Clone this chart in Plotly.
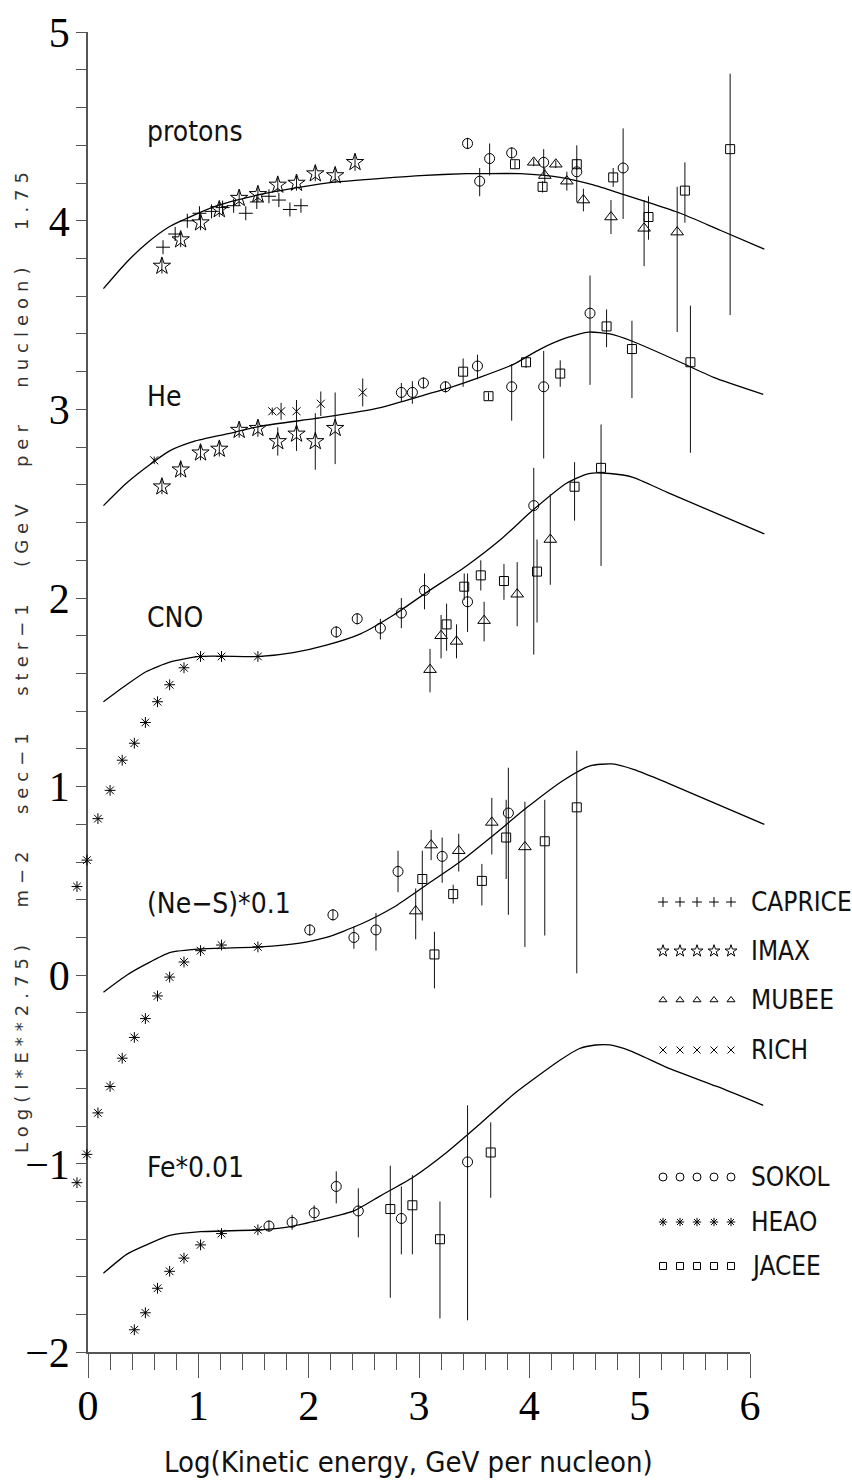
import plotly.graph_objects as go

# ---------------- data ----------------
# Model curves: x = log10(kinetic energy, GeV/nucleon), y = log10(I*E^2.75)
CURVE_P_X = [0.14, 0.35, 0.53, 0.74, 0.96, 1.17, 1.56, 2.16, 2.77, 3.01, 3.43, 3.55, 3.92, 4.28, 4.58, 4.85, 5.12, 5.37, 5.73, 6.13]
CURVE_P_Y = [3.64, 3.78, 3.88, 3.97, 4.03, 4.08, 4.14, 4.20, 4.23, 4.24, 4.25, 4.25, 4.25, 4.23, 4.19, 4.14, 4.09, 4.04, 3.95, 3.85]
CURVE_HE_X = [0.14, 0.35, 0.59, 0.74, 0.96, 1.26, 1.56, 2.16, 2.65, 3.07, 3.25, 3.55, 3.86, 4.10, 4.34, 4.54, 4.73, 4.94, 5.37, 5.67, 6.12]
CURVE_HE_Y = [2.49, 2.61, 2.72, 2.78, 2.83, 2.87, 2.91, 2.96, 3.01, 3.08, 3.11, 3.17, 3.24, 3.32, 3.38, 3.41, 3.40, 3.36, 3.25, 3.17, 3.08]
CURVE_CNO_X = [0.14, 0.35, 0.53, 0.74, 1.02, 1.56, 1.86, 2.16, 2.47, 2.77, 3.07, 3.43, 3.74, 4.04, 4.34, 4.54, 4.73, 4.94, 5.25, 6.13]
CURVE_CNO_Y = [1.45, 1.54, 1.61, 1.66, 1.69, 1.69, 1.71, 1.75, 1.81, 1.91, 2.03, 2.17, 2.31, 2.47, 2.61, 2.66, 2.66, 2.64, 2.56, 2.34]
CURVE_NES_X = [0.14, 0.35, 0.53, 0.74, 1.02, 1.56, 1.92, 2.16, 2.47, 2.77, 3.07, 3.37, 3.67, 3.98, 4.30, 4.55, 4.75, 4.95, 5.25, 6.13]
CURVE_NES_Y = [-0.09, 0.00, 0.06, 0.12, 0.14, 0.15, 0.17, 0.20, 0.27, 0.36, 0.48, 0.60, 0.74, 0.89, 1.03, 1.11, 1.12, 1.09, 1.02, 0.80]
CURVE_FE_X = [0.14, 0.35, 0.53, 0.74, 1.02, 1.56, 1.86, 2.16, 2.41, 2.65, 2.95, 3.25, 3.55, 3.86, 4.28, 4.45, 4.60, 4.73, 4.91, 5.25, 5.70, 6.12]
CURVE_FE_Y = [-1.58, -1.48, -1.43, -1.38, -1.36, -1.35, -1.33, -1.29, -1.25, -1.17, -1.07, -0.94, -0.79, -0.63, -0.45, -0.39, -0.37, -0.37, -0.40, -0.49, -0.59, -0.69]

# CAPRICE (protons)
CAPRICE_X = [0.68, 0.79, 0.90, 1.01, 1.12, 1.22, 1.32, 1.43, 1.53, 1.64, 1.73, 1.83, 1.93]
CAPRICE_Y = [3.86, 3.93, 4.00, 4.04, 4.05, 4.07, 4.08, 4.04, 4.10, 4.13, 4.11, 4.06, 4.08]

# IMAX (protons, He)
IMAX_P_X = [0.67, 0.84, 1.02, 1.19, 1.37, 1.54, 1.72, 1.89, 2.06, 2.24, 2.42]
IMAX_P_Y = [3.76, 3.90, 3.99, 4.06, 4.12, 4.14, 4.19, 4.20, 4.25, 4.24, 4.31]
IMAX_P_E = [0.04, 0.04, 0.04, 0.04, 0.04, 0.04, 0.04, 0.04, 0.04, 0.04, 0.045]
IMAX_HE_X = [0.67, 0.84, 1.02, 1.19, 1.37, 1.54, 1.72, 1.89, 2.06, 2.24]
IMAX_HE_Y = [2.59, 2.68, 2.77, 2.79, 2.89, 2.90, 2.83, 2.87, 2.83, 2.90]
IMAX_HE_E = [0.04, 0.04, 0.04, 0.04, 0.04, 0.045, 0.075, 0.09, 0.15, 0.19]

# MUBEE (protons, CNO, Ne-S)
MUBEE_P_X = [4.04, 4.14, 4.24, 4.34, 4.49, 4.74, 5.04, 5.34]
MUBEE_P_Y = [4.31, 4.24, 4.30, 4.21, 4.11, 4.02, 3.96, 3.94]
MUBEE_P_EP = [0.02, 0.04, 0.02, 0.05, 0.06, 0.09, 0.15, 0.24]
MUBEE_P_EM = [0.02, 0.04, 0.02, 0.05, 0.06, 0.09, 0.20, 0.53]
MUBEE_CNO_X = [3.10, 3.20, 3.34, 3.59, 3.89, 4.19]
MUBEE_CNO_Y = [1.62, 1.80, 1.77, 1.88, 2.02, 2.31]
MUBEE_CNO_EP = [0.11, 0.11, 0.09, 0.10, 0.17, 0.24]
MUBEE_CNO_EM = [0.12, 0.12, 0.09, 0.11, 0.17, 0.24]
MUBEE_NES_X = [2.97, 3.11, 3.36, 3.66, 3.96]
MUBEE_NES_Y = [0.34, 0.69, 0.66, 0.81, 0.68]
MUBEE_NES_EP = [0.12, 0.08, 0.09, 0.13, 0.24]
MUBEE_NES_EM = [0.15, 0.08, 0.11, 0.17, 0.53]

# RICH (He)
RICH_X = [0.60, 1.67, 1.75, 1.89, 2.11, 2.49]
RICH_Y = [2.73, 2.99, 2.99, 2.99, 3.03, 3.09]
RICH_E = [0.02, 0.02, 0.045, 0.06, 0.065, 0.074]

# SOKOL (protons, He, CNO, Ne-S, Fe)
SOKOL_P_X = [3.44, 3.55, 3.64, 3.84, 4.13, 4.43, 4.85]
SOKOL_P_Y = [4.41, 4.21, 4.33, 4.36, 4.31, 4.26, 4.28]
SOKOL_P_EP = [0.03, 0.07, 0.08, 0.03, 0.07, 0.14, 0.21]
SOKOL_P_EM = [0.03, 0.08, 0.09, 0.03, 0.07, 0.16, 0.27]
SOKOL_HE_X = [2.84, 2.94, 3.04, 3.24, 3.53, 3.84, 4.13, 4.55]
SOKOL_HE_Y = [3.09, 3.09, 3.14, 3.12, 3.23, 3.12, 3.12, 3.51]
SOKOL_HE_EP = [0.05, 0.06, 0.03, 0.03, 0.06, 0.12, 0.19, 0.20]
SOKOL_HE_EM = [0.05, 0.06, 0.03, 0.03, 0.07, 0.18, 0.38, 0.38]
SOKOL_CNO_X = [2.25, 2.44, 2.65, 2.84, 3.05, 3.44, 4.04]
SOKOL_CNO_Y = [1.82, 1.89, 1.84, 1.92, 2.04, 1.98, 2.49]
SOKOL_CNO_EP = [0.03, 0.03, 0.05, 0.08, 0.09, 0.15, 0.20]
SOKOL_CNO_EM = [0.03, 0.03, 0.06, 0.08, 0.10, 0.16, 0.79]
SOKOL_NES_X = [2.01, 2.22, 2.41, 2.61, 2.81, 3.21, 3.81]
SOKOL_NES_Y = [0.24, 0.32, 0.20, 0.24, 0.55, 0.63, 0.86]
SOKOL_NES_EP = [0.03, 0.03, 0.06, 0.09, 0.11, 0.10, 0.24]
SOKOL_NES_EM = [0.03, 0.03, 0.06, 0.11, 0.11, 0.14, 0.54]
SOKOL_FE_X = [1.64, 1.85, 2.05, 2.25, 2.45, 2.84, 3.44]
SOKOL_FE_Y = [-1.33, -1.31, -1.26, -1.12, -1.25, -1.29, -0.99]
SOKOL_FE_EP = [0.03, 0.04, 0.04, 0.08, 0.12, 0.17, 0.30]
SOKOL_FE_EM = [0.03, 0.04, 0.04, 0.09, 0.14, 0.19, 0.84]

# HEAO (CNO, Ne-S, Fe)
HEAO_CNO_X = [-0.10, -0.01, 0.09, 0.20, 0.31, 0.42, 0.52, 0.63, 0.74, 0.87, 1.02, 1.21, 1.54]
HEAO_CNO_Y = [0.47, 0.61, 0.83, 0.98, 1.14, 1.23, 1.34, 1.45, 1.54, 1.63, 1.69, 1.69, 1.69]
HEAO_NES_X = [-0.10, -0.01, 0.09, 0.20, 0.31, 0.42, 0.52, 0.63, 0.74, 0.87, 1.02, 1.21, 1.54]
HEAO_NES_Y = [-1.10, -0.95, -0.73, -0.59, -0.44, -0.33, -0.23, -0.11, -0.01, 0.07, 0.13, 0.16, 0.15]
HEAO_FE_X = [0.42, 0.52, 0.63, 0.74, 0.87, 1.02, 1.21, 1.54]
HEAO_FE_Y = [-1.88, -1.79, -1.66, -1.57, -1.50, -1.43, -1.37, -1.35]

# JACEE (protons, He, CNO, Ne-S, Fe)
JACEE_P_X = [3.87, 4.12, 4.43, 4.76, 5.08, 5.41, 5.82]
JACEE_P_Y = [4.30, 4.18, 4.30, 4.23, 4.02, 4.16, 4.38]
JACEE_P_EP = [0.02, 0.03, 0.03, 0.05, 0.11, 0.15, 0.40]
JACEE_P_EM = [0.02, 0.03, 0.03, 0.05, 0.12, 0.17, 0.88]
JACEE_HE_X = [3.40, 3.63, 3.97, 4.28, 4.70, 4.93, 5.46]
JACEE_HE_Y = [3.20, 3.07, 3.25, 3.19, 3.44, 3.32, 3.25]
JACEE_HE_EP = [0.07, 0.02, 0.03, 0.07, 0.09, 0.15, 0.30]
JACEE_HE_EM = [0.08, 0.02, 0.03, 0.07, 0.11, 0.26, 0.48]
JACEE_CNO_X = [3.25, 3.41, 3.56, 3.77, 4.07, 4.41, 4.65]
JACEE_CNO_Y = [1.86, 2.06, 2.12, 2.09, 2.14, 2.59, 2.69]
JACEE_CNO_EP = [0.11, 0.07, 0.08, 0.09, 0.17, 0.13, 0.23]
JACEE_CNO_EM = [0.14, 0.07, 0.08, 0.10, 0.27, 0.18, 0.52]
JACEE_NES_X = [3.03, 3.14, 3.31, 3.57, 3.79, 4.14, 4.43]
JACEE_NES_Y = [0.51, 0.11, 0.43, 0.50, 0.73, 0.71, 0.89]
JACEE_NES_EP = [0.15, 0.12, 0.05, 0.09, 0.20, 0.22, 0.30]
JACEE_NES_EM = [0.22, 0.18, 0.05, 0.13, 0.22, 0.50, 0.88]
JACEE_FE_X = [2.74, 2.94, 3.19, 3.65]
JACEE_FE_Y = [-1.24, -1.22, -1.40, -0.94]
JACEE_FE_EP = [0.23, 0.16, 0.20, 0.16]
JACEE_FE_EM = [0.47, 0.26, 0.42, 0.24]

CURVE_LABELS = ["protons", "He", "CNO", "(Ne−S)*0.1", "Fe*0.01"]
LEGEND_NAMES = ["CAPRICE", "IMAX", "MUBEE", "RICH", "SOKOL", "HEAO", "JACEE"]
X_TICKS = [0, 1, 2, 3, 4, 5, 6]
Y_TICKS = [-2, -1, 0, 1, 2, 3, 4, 5]
X_TITLE = "Log(Kinetic energy, GeV per nucleon)"
Y_TITLE = "Log(I*E**2.75)  m−2  sec−1  ster−1  (GeV  per  nucleon)  1.75"

# ---------------- layout geometry ----------------
W, H = 852, 1483
X_RANGE = [0, 6]
Y_RANGE = [-2, 5]
FRAME_L, FRAME_R = 88.0, 750.0     # pixel columns of x=0 and x=6
FRAME_T, FRAME_B = 32.2, 1352.4    # pixel rows of y=5 and y=-2

ppx = (FRAME_R - FRAME_L) / (X_RANGE[1] - X_RANGE[0])
ppy = (FRAME_B - FRAME_T) / (Y_RANGE[1] - Y_RANGE[0])
XR_FULL = [X_RANGE[0] - FRAME_L / ppx, X_RANGE[1] + (W - FRAME_R) / ppx]
YR_FULL = [Y_RANGE[0] - (H - FRAME_B) / ppy, Y_RANGE[1] + FRAME_T / ppy]


def px2x(px):
    return XR_FULL[0] + px / ppx


def py2y(py):
    return YR_FULL[1] - py / ppy


COND = "DejaVu Sans Condensed, Liberation Sans Narrow, DejaVu Sans, sans-serif"
SERIF = "Liberation Serif, Times New Roman, serif"
INK = "#111111"
AXC = "#555555"

fig = go.Figure()

# dummy trace to anchor the frame axes
fig.add_trace(go.Scatter(x=[None], y=[None], xaxis="x", yaxis="y", showlegend=False, hoverinfo="skip"))

# model curves
for cx, cy in [(CURVE_P_X, CURVE_P_Y), (CURVE_HE_X, CURVE_HE_Y), (CURVE_CNO_X, CURVE_CNO_Y),
               (CURVE_NES_X, CURVE_NES_Y), (CURVE_FE_X, CURVE_FE_Y)]:
    fig.add_trace(go.Scatter(x=cx, y=cy, mode="lines", xaxis="x2", yaxis="y2",
                             line=dict(color="black", width=1.3, shape="spline", smoothing=0.6),
                             showlegend=False, hoverinfo="skip"))

SYM = {
    "CAPRICE": ("cross-thin-open", 10, 7),
    "IMAX": ("star-open", 13, 9),
    "MUBEE": ("triangle-up-open", 11, 7),
    "RICH": ("x-thin-open", 8, 7),
    "SOKOL": ("circle-open", 10, 8),
    "HEAO": ("asterisk-open", 9, 7),
    "JACEE": ("square-open", 9, 7),
}


def add_points(name, xs, ys, ep=None, em=None):
    sym, size, _ = SYM[name]
    err = None
    if ep is not None:
        err = dict(type="data", symmetric=False, array=ep, arrayminus=em if em is not None else ep,
                   width=0, thickness=1, color=INK)
    fig.add_trace(go.Scatter(x=xs, y=ys, mode="markers", xaxis="x2", yaxis="y2", name=name,
                             marker=dict(symbol=sym, size=size, color="black",
                                         line=dict(color="black", width=1)),
                             error_y=err, showlegend=False, hoverinfo="skip"))


add_points("CAPRICE", CAPRICE_X, CAPRICE_Y)
add_points("IMAX", IMAX_P_X, IMAX_P_Y, IMAX_P_E)
add_points("IMAX", IMAX_HE_X, IMAX_HE_Y, IMAX_HE_E)
add_points("MUBEE", MUBEE_P_X, MUBEE_P_Y, MUBEE_P_EP, MUBEE_P_EM)
add_points("MUBEE", MUBEE_CNO_X, MUBEE_CNO_Y, MUBEE_CNO_EP, MUBEE_CNO_EM)
add_points("MUBEE", MUBEE_NES_X, MUBEE_NES_Y, MUBEE_NES_EP, MUBEE_NES_EM)
add_points("RICH", RICH_X, RICH_Y, RICH_E)
add_points("SOKOL", SOKOL_P_X, SOKOL_P_Y, SOKOL_P_EP, SOKOL_P_EM)
add_points("SOKOL", SOKOL_HE_X, SOKOL_HE_Y, SOKOL_HE_EP, SOKOL_HE_EM)
add_points("SOKOL", SOKOL_CNO_X, SOKOL_CNO_Y, SOKOL_CNO_EP, SOKOL_CNO_EM)
add_points("SOKOL", SOKOL_NES_X, SOKOL_NES_Y, SOKOL_NES_EP, SOKOL_NES_EM)
add_points("SOKOL", SOKOL_FE_X, SOKOL_FE_Y, SOKOL_FE_EP, SOKOL_FE_EM)
add_points("HEAO", HEAO_CNO_X, HEAO_CNO_Y)
add_points("HEAO", HEAO_NES_X, HEAO_NES_Y)
add_points("HEAO", HEAO_FE_X, HEAO_FE_Y)
add_points("JACEE", JACEE_P_X, JACEE_P_Y, JACEE_P_EP, JACEE_P_EM)
add_points("JACEE", JACEE_HE_X, JACEE_HE_Y, JACEE_HE_EP, JACEE_HE_EM)
add_points("JACEE", JACEE_CNO_X, JACEE_CNO_Y, JACEE_CNO_EP, JACEE_CNO_EM)
add_points("JACEE", JACEE_NES_X, JACEE_NES_Y, JACEE_NES_EP, JACEE_NES_EM)
add_points("JACEE", JACEE_FE_X, JACEE_FE_Y, JACEE_FE_EP, JACEE_FE_EM)

# ---------------- custom legend (five repeated symbols + name) ----------------
LEG_SYM_PX = [663, 680, 697, 714, 731]
LEG_TEXT_PX = 749
LEG_ROW_PY = [902, 951, 1000, 1050, 1177, 1222, 1266]
annotations = []
for name, row in zip(LEGEND_NAMES, LEG_ROW_PY):
    sym, _, lsize = SYM[name]
    fig.add_trace(go.Scatter(x=[px2x(p) for p in LEG_SYM_PX], y=[py2y(row)] * len(LEG_SYM_PX),
                             mode="markers", xaxis="x2", yaxis="y2",
                             marker=dict(symbol=sym, size=lsize, color="black", line=dict(color="black", width=1)),
                             showlegend=False, hoverinfo="skip"))
    annotations.append(dict(x=LEG_TEXT_PX / W, y=1 - row / H, xref="paper", yref="paper",
                            text=name, showarrow=False, xanchor="left", yanchor="middle",
                            font=dict(family=COND, size=26, color=INK)))

# ---------------- curve labels ----------------
LABEL_PX = 145
LABEL_PY = [132, 396, 617, 903, 1167]
for txt, py in zip(CURVE_LABELS, LABEL_PY):
    annotations.append(dict(x=LABEL_PX / W, y=1 - py / H, xref="paper", yref="paper",
                            text=txt, showarrow=False, xanchor="left", yanchor="middle",
                            font=dict(family=COND, size=28, color=INK)))

# axis titles
annotations.append(dict(x=408 / W, y=1 - 1462 / H, xref="paper", yref="paper", text=X_TITLE,
                        showarrow=False, xanchor="center", yanchor="middle",
                        font=dict(family=COND, size=29, color=INK)))
annotations.append(dict(x=22 / W, y=1 - 660 / H, xref="paper", yref="paper",
                        text='<span style="letter-spacing:6px;word-spacing:4px">' + Y_TITLE.replace("  ", "\u00a0 ") + "</span>",
                        showarrow=False, textangle=-90, xanchor="center", yanchor="middle",
                        font=dict(family="DejaVu Sans, sans-serif", size=18, color="#333333")))


def tick_text(vals):
    return [("−" if v < 0 else "") + str(abs(v)) for v in vals]


fig.update_layout(
    template="none",
    width=W, height=H,
    margin=dict(l=0, r=0, t=0, b=0, pad=0, autoexpand=False),
    paper_bgcolor="white", plot_bgcolor="rgba(0,0,0,0)",
    showlegend=False,
    xaxis=dict(domain=[FRAME_L / W, FRAME_R / W], range=X_RANGE, anchor="y", automargin=False,
               showline=True, linecolor=AXC, linewidth=1.5, mirror=False,
               showgrid=False, zeroline=False,
               tickvals=X_TICKS, ticktext=tick_text(X_TICKS),
               ticks="outside", ticklen=24, tickwidth=1.3, tickcolor=AXC,
               minor=dict(dtick=0.2, tick0=0, ticks="outside", ticklen=16, tickwidth=1.3, tickcolor=AXC, showgrid=False),
               tickfont=dict(family=SERIF, size=42, color="black"), ticklabelstandoff=-9,
               ticklabeloverflow="allow", fixedrange=True),
    yaxis=dict(domain=[1 - FRAME_B / H, 1 - FRAME_T / H], range=Y_RANGE, anchor="x", automargin=False,
               showline=True, linecolor=AXC, linewidth=1.5, mirror=False,
               showgrid=False, zeroline=False,
               tickvals=Y_TICKS, ticktext=tick_text(Y_TICKS),
               ticks="outside", ticklen=10, tickwidth=1.3, tickcolor=AXC,
               minor=dict(dtick=0.2, tick0=0, ticks="outside", ticklen=10, tickwidth=1.3, tickcolor=AXC, showgrid=False),
               tickfont=dict(family=SERIF, size=42, color="black"), ticklabelstandoff=-2,
               ticklabeloverflow="allow", fixedrange=True),
    xaxis2=dict(domain=[0, 1], range=XR_FULL, anchor="y2", visible=False, fixedrange=True, automargin=False),
    yaxis2=dict(domain=[0, 1], range=YR_FULL, anchor="x2", visible=False, fixedrange=True, automargin=False),
    annotations=annotations,
)

fig.write_html("out.html", config={"displayModeBar": False})
